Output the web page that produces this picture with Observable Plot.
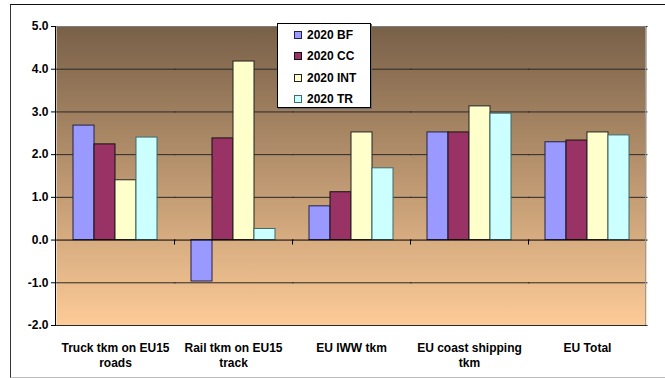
<!DOCTYPE html>
<html><head><meta charset="utf-8">
<script src="https://cdn.jsdelivr.net/npm/d3@7"></script>
<script src="https://cdn.jsdelivr.net/npm/@observablehq/plot@0.6"></script>
<style>
html,body{margin:0;padding:0;background:#fff;}
#wrap{position:relative;width:665px;height:378px;overflow:hidden;font-family:"Liberation Sans",Arial,sans-serif;}
#border{position:absolute;left:10px;top:4px;width:660px;height:372px;border-top:1px solid #111;border-left:1px solid #333;border-bottom:1px solid #bbb;pointer-events:none;}
#legend{position:absolute;left:277px;top:23px;width:94px;height:85px;background:#fff;border:1px solid #000;box-sizing:border-box;box-shadow:1px 1px 0 #666;}
.item{position:absolute;left:16px;height:14px;font-weight:bold;font-size:12px;line-height:14px;color:#000;white-space:nowrap;}
.sw{display:inline-block;width:6px;height:6px;border:1px solid #000;margin-right:5px;vertical-align:0px;}
</style>
</head><body>
<div id="wrap"><div id="chart"></div><div id="legend"></div><div id="border"></div></div>
<script>
const categories = ["Truck tkm on EU15 roads", "Rail tkm on EU15 track", "EU IWW tkm", "EU coast shipping tkm", "EU Total"];
const categoryLabels = ["Truck tkm on EU15\nroads", "Rail tkm on EU15\ntrack", "EU IWW tkm", "EU coast shipping\ntkm", "EU Total"];
const series = ["2020 BF", "2020 CC", "2020 INT", "2020 TR"];
const bf  = [2.68, -0.97, 0.79, 2.52, 2.29];
const cc  = [2.24, 2.38, 1.12, 2.52, 2.33];
const int = [1.40, 4.18, 2.52, 3.13, 2.52];
const tr  = [2.40, 0.26, 1.68, 2.96, 2.45];
const yTicks = [-2, -1, 0, 1, 2, 3, 4, 5];
const fills = ["#9999ff", "#993366", "#ffffcc", "#ccffff"];
const strokes = ["#222244", "#111111", "#222222", "#3d6b6b"];

const valuesBySeries = [bf, cc, int, tr];
const data = [];
series.forEach((s, si) => categories.forEach((c, ci) => data.push({cat: c, series: s, value: valuesBySeries[si][ci]})));
const fillOf = Object.fromEntries(series.map((s, i) => [s, fills[i]]));
const strokeOf = Object.fromEntries(series.map((s, i) => [s, strokes[i]]));
const labelOf = Object.fromEntries(categories.map((c, i) => [c, categoryLabels[i]]));

const NS = "http://www.w3.org/2000/svg";
function line(g, x1, y1, x2, y2, stroke) {
  const l = document.createElementNS(NS, "line");
  l.setAttribute("x1", x1); l.setAttribute("y1", y1);
  l.setAttribute("x2", x2); l.setAttribute("y2", y2);
  l.setAttribute("stroke", stroke);
  g.appendChild(l);
}
// axis line, category boundary ticks on the zero line, plot edge
function axisDecor(index, scales, values, d) {
  const g = document.createElementNS(NS, "g");
  const y0 = scales.y(0);
  const top = d.marginTop, bottom = d.height - d.marginBottom;
  const left = d.marginLeft, right = d.width - d.marginRight;
  line(g, right - 0.5, top, right - 0.5, bottom, "#9a9a9a");
  line(g, left, top + 0.5, right, top + 0.5, "#7f7f7f");
  line(g, left - 0.5, top, left - 0.5, bottom, "#000");
  if (scales.fx) {
    for (const c of categories.slice(1)) {
      const x = Math.round(scales.fx(c)) + 0.5;
      line(g, x, y0, x, y0 + 5, "#000");
    }
  }
  return g;
}

const chart = Plot.plot({
  width: 665,
  height: 378,
  marginLeft: 55,
  marginRight: 19,
  marginTop: 26,
  marginBottom: 53,
  style: {fontFamily: "'Liberation Sans', Arial, sans-serif", fontSize: "12px", fontWeight: "bold", color: "#000", background: "transparent"},
  fx: {domain: categories, padding: 0, axis: null},
  x: {domain: series, paddingInner: 0, paddingOuter: 0.71, axis: null},
  y: {domain: [-2, 5], ticks: yTicks, tickFormat: d => d.toFixed(1), tickSize: 5, tickPadding: 3, label: null},
  color: {type: "identity"},
  marks: [
    Plot.frame({facet: "super", fill: "url(#bgGrad)", stroke: null}),
    Plot.ruleY(yTicks.filter(t => t !== 0), {stroke: "#2a2a2a", strokeWidth: 1, insetRight: -1.5}),
    Plot.barY(data, {fx: "cat", x: "series", y: "value", fill: d => fillOf[d.series], stroke: d => strokeOf[d.series], strokeWidth: 1}),
    Plot.ruleY([0], {stroke: "#000", strokeWidth: 1, insetRight: -1.5}),
    Plot.frame({facet: "super", render: axisDecor}),
    Plot.axisY({tickSize: 5, tickPadding: 3, tickFormat: d => d.toFixed(1), ticks: yTicks, label: null, fontSize: 12, fontWeight: "bold"}),
    Plot.axisFx({anchor: "bottom", tickSize: 0, tickPadding: 15, lineHeight: 1.3, label: null, tickFormat: c => labelOf[c], fontSize: 12, fontWeight: "bold"})
  ]
});

const defs = d3.select(chart).insert("defs", ":first-child");
const grad = defs.append("linearGradient").attr("id", "bgGrad").attr("x1", 0).attr("y1", 0).attr("x2", 0).attr("y2", 1);
grad.append("stop").attr("offset", "0%").attr("stop-color", "#786048");
grad.append("stop").attr("offset", "100%").attr("stop-color", "#fdcb97");
document.getElementById("chart").appendChild(chart);

const legend = document.getElementById("legend");
const rowTops = [4, 25.3, 46.6, 68];
series.forEach((s, i) => {
  const it = document.createElement("div");
  it.className = "item";
  it.style.top = rowTops[i] + "px";
  const sw = document.createElement("span");
  sw.className = "sw";
  sw.style.background = fills[i];
  sw.style.borderColor = strokes[i];
  it.appendChild(sw);
  it.appendChild(document.createTextNode(s));
  legend.appendChild(it);
});
</script>
</body></html>
